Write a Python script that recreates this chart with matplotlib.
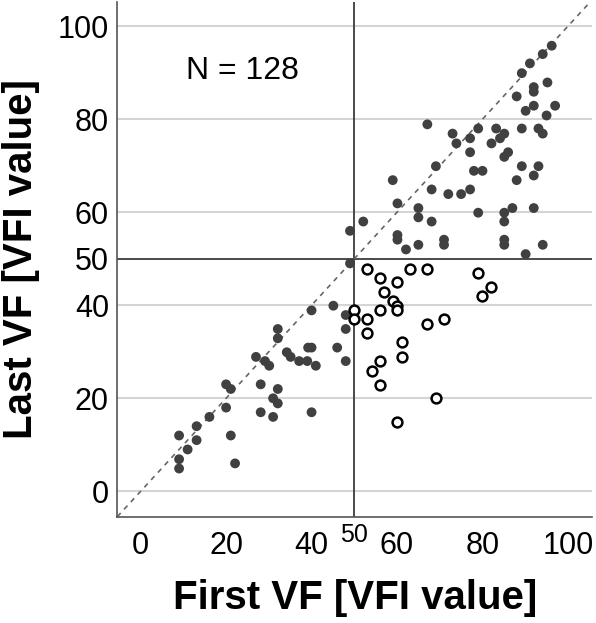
import matplotlib
matplotlib.use("Agg")
import matplotlib.pyplot as plt

plt.rcParams['font.family'] = ['Liberation Sans', 'DejaVu Sans']

# Filled points (stable / not crossing to below 50)
filled_x = [96.2, 94.1, 91.1, 89.2, 95.2, 92.0, 92.0, 88.0, 97.0, 92.0,
            90.1, 95.0, 67.1, 79.0, 83.2, 89.2, 93.1, 94.1, 73.0, 77.1,
            84.1, 85.1, 73.9, 82.1, 77.1, 86.0, 85.1, 69.1, 89.2, 93.1,
            78.0, 80.0, 92.0, 59.0, 88.0, 68.1, 72.0, 75.0, 77.1, 60.1,
            65.0, 87.0, 92.0, 79.0, 85.1, 65.0, 52.1, 68.1, 85.1, 49.0,
            60.1, 60.1, 62.1, 65.0, 71.0, 71.0, 85.1, 85.1, 94.1, 90.1,
            49.0,
            45.1, 40.0, 48.0, 48.0, 32.1, 32.1, 39.2, 40.0, 46.0, 34.2,
            35.1, 27.0, 29.1, 30.1, 37.1, 39.0, 41.0, 48.0, 20.0, 21.1,
            28.1, 32.1, 31.0, 32.1, 20.0, 28.1, 31.0, 40.0, 16.1, 13.1,
            9.0, 13.1, 21.1, 11.0, 9.0, 9.0, 22.1]
filled_y = [95.8, 94.0, 92.0, 89.9, 87.9, 86.9, 85.9, 84.9, 82.9, 82.9,
            81.8, 80.8, 78.9, 78.0, 78.0, 78.0, 78.0, 76.9, 76.9, 75.9,
            75.9, 76.9, 74.8, 74.8, 72.9, 72.9, 71.9, 69.9, 69.9, 69.9,
            68.9, 68.9, 67.9, 66.9, 66.9, 64.9, 63.9, 63.9, 64.9, 61.9,
            60.9, 60.9, 60.9, 59.9, 59.9, 58.9, 58.0, 58.0, 58.0, 56.0,
            55.1, 54.1, 52.0, 53.0, 54.1, 53.0, 54.1, 53.0, 53.0, 51.0,
            49.0,
            39.9, 38.9, 37.9, 34.9, 34.9, 32.9, 30.9, 30.9, 30.9, 29.9,
            28.9, 28.9, 28.0, 27.0, 28.0, 28.0, 27.0, 28.0, 23.0, 22.0,
            23.0, 22.0, 20.0, 18.9, 18.0, 17.0, 16.0, 17.0, 16.0, 14.0,
            12.0, 11.0, 12.0, 9.0, 6.9, 4.9, 6.0]

# Open points (first >= 50, last < 50)
open_x = [52.9, 56.0, 60.1, 63.0, 67.1, 79.0, 82.1, 80.0, 57.0, 59.0,
          60.1, 60.1, 56.0, 50.0, 50.0, 52.9, 52.9, 67.1, 71.0, 61.1,
          61.1, 56.0, 54.1, 56.0, 69.1, 60.1]
open_y = [47.9, 45.9, 44.9, 47.9, 47.9, 46.9, 43.9, 42.0, 42.9, 40.9,
          39.9, 38.9, 38.9, 38.9, 37.0, 37.0, 34.0, 36.0, 37.0, 32.0,
          28.9, 28.0, 25.9, 22.9, 20.0, 15.0]

grid_y = [0, 20, 40, 60, 80, 100]
x_ticks = [0, 20, 40, 60, 80, 100]
y_ticks = [0, 20, 40, 50, 60, 80, 100]
cutoff = 50
n_text = "N = 128"

fig = plt.figure(figsize=(5.96, 6.23), dpi=100)
ax = fig.add_axes([0.1968, 0.1706, 0.797, 0.8262])
xmin, xmax = -5.46, 105.7
ymin, ymax = -5.46, 105.2
ax.set_xlim(xmin, xmax)
ax.set_ylim(ymin, ymax)

for g in grid_y:
    ax.axhline(g, color='#d4d4d4', lw=1.5, zorder=0)
ax.axhline(cutoff, color='#3c3c3c', lw=1.3, zorder=1)
ax.axvline(cutoff, color='#3c3c3c', lw=1.3, zorder=1)
ax.plot([xmin, xmax], [xmin, xmax], color='#666666', lw=1.2,
        ls=(0, (3, 3)), zorder=1)

ax.scatter(filled_x, filled_y, s=50, color='#404040', edgecolors='none', zorder=3)
ax.scatter(open_x, open_y, s=50, facecolors='white', edgecolors='black',
           linewidths=1.8, zorder=3)

ax.text(10.6, 90.3, n_text, fontsize=23, ha='left', va='center')

for s in ['top', 'right']:
    ax.spines[s].set_visible(False)
for s in ['left', 'bottom']:
    ax.spines[s].set_color('#555555')
    ax.spines[s].set_linewidth(1.2)

ax.set_yticks(y_ticks)
ax.set_yticklabels([str(v) for v in y_ticks], fontsize=22)
ax.set_xticks(x_ticks)
ax.set_xticklabels([str(v) for v in x_ticks], fontsize=22)
ax.tick_params(axis='both', length=0)
ax.tick_params(axis='y', pad=6)
ax.tick_params(axis='x', pad=10)
# extra "50" label on x axis, raised just under the axis
ax.text(cutoff, -0.012, "50", fontsize=18, ha='center', va='top',
        transform=ax.get_xaxis_transform())

ax.set_xlabel("First VF [VFI value]", fontsize=29, fontweight='bold', labelpad=13)
ax.set_ylabel("Last VF [VFI value]", fontsize=29, fontweight='bold', labelpad=13)

fig.savefig("out.png", dpi=100)
